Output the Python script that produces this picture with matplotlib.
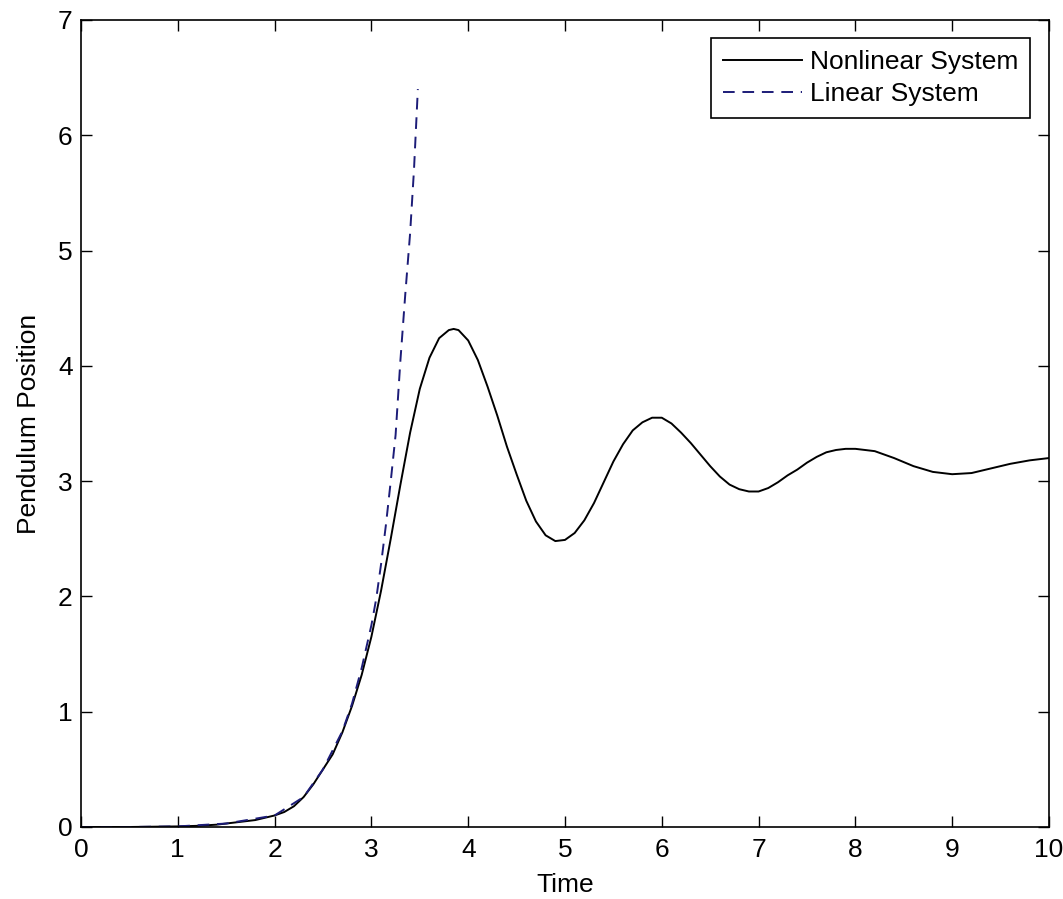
import numpy as np
import matplotlib
matplotlib.use("Agg")
import matplotlib.pyplot as plt

# values
t_nonlinear = [0.0, 0.5, 1.0, 1.2, 1.4, 1.6, 1.8, 2.0, 2.1, 2.2, 2.3, 2.4, 2.5,
               2.6, 2.7, 2.8, 2.9, 3.0, 3.1, 3.2, 3.3, 3.4, 3.5, 3.6, 3.7, 3.8,
               3.85, 3.9, 4.0, 4.1, 4.2, 4.3, 4.4, 4.5, 4.6, 4.7, 4.8, 4.9, 5.0,
               5.1, 5.2, 5.3, 5.4, 5.5, 5.6, 5.7, 5.8, 5.9, 6.0, 6.1, 6.2, 6.3,
               6.4, 6.5, 6.6, 6.7, 6.8, 6.9, 7.0, 7.1, 7.2, 7.3, 7.4, 7.5, 7.6,
               7.7, 7.8, 7.9, 8.0, 8.2, 8.4, 8.6, 8.8, 9.0, 9.2, 9.4, 9.6, 9.8, 10.0]
y_nonlinear = [0.0, 0.0, 0.005, 0.01, 0.02, 0.04, 0.06, 0.10, 0.13, 0.18, 0.26, 0.37, 0.50,
               0.63, 0.82, 1.05, 1.32, 1.65, 2.05, 2.50, 2.97, 3.42, 3.80, 4.07, 4.24, 4.31,
               4.32, 4.31, 4.22, 4.05, 3.82, 3.57, 3.30, 3.06, 2.83, 2.65, 2.53, 2.48, 2.49,
               2.55, 2.66, 2.81, 2.99, 3.17, 3.32, 3.44, 3.51, 3.55, 3.55, 3.50, 3.42, 3.33,
               3.23, 3.13, 3.04, 2.97, 2.93, 2.91, 2.91, 2.94, 2.99, 3.05, 3.10, 3.16, 3.21,
               3.25, 3.27, 3.28, 3.28, 3.26, 3.20, 3.13, 3.08, 3.06, 3.07, 3.11, 3.15, 3.18, 3.20]

t_linear = [0.0, 0.5, 1.0, 1.5, 2.0, 2.3, 2.5, 2.7, 2.8, 2.9, 3.0, 3.05, 3.1,
            3.15, 3.2, 3.25, 3.3, 3.35, 3.4, 3.44, 3.48]
y_linear = [0.0, 0.0, 0.005, 0.03, 0.10, 0.26, 0.50, 0.83, 1.07, 1.38, 1.75, 1.98, 2.28,
            2.62, 3.0, 3.40, 4.05, 4.62, 5.15, 5.7, 6.4]

plt.rcParams['font.family'] = ['Liberation Sans', 'DejaVu Sans']

fig = plt.figure(figsize=(10.63, 8.99), dpi=100)
ax = fig.add_axes([0.0762, 0.0801, 0.9106, 0.8977])

ax.plot(t_nonlinear, y_nonlinear, color='black', linewidth=1.4, label='Nonlinear System')
ax.plot(t_linear, y_linear, color='#1c1c78', linewidth=1.4, linestyle=(0, (6, 4)),
        label='Linear System')

ax.set_xlim(0, 10)
ax.set_ylim(0, 7)
ax.set_xticks(range(0, 11))
ax.set_yticks(range(0, 8))
ax.tick_params(direction='in', length=8, width=1, top=True, right=True,
               labelsize=19)
ax.tick_params(axis='x', pad=8)
ax.tick_params(axis='y', pad=6)
for s in ax.spines.values():
    s.set_linewidth(1.2)

ax.set_xlabel('Time', fontsize=19, labelpad=8)
ax.set_ylabel('Pendulum Position', fontsize=19, labelpad=12)

leg = ax.legend(loc='upper right', fontsize=19, fancybox=False, framealpha=1,
                edgecolor='black', handlelength=3.0, handletextpad=0.3,
                borderaxespad=0.7, borderpad=0.45, labelspacing=0.3)
leg.get_frame().set_linewidth(1.2)

fig.savefig('out.png', dpi=100)
